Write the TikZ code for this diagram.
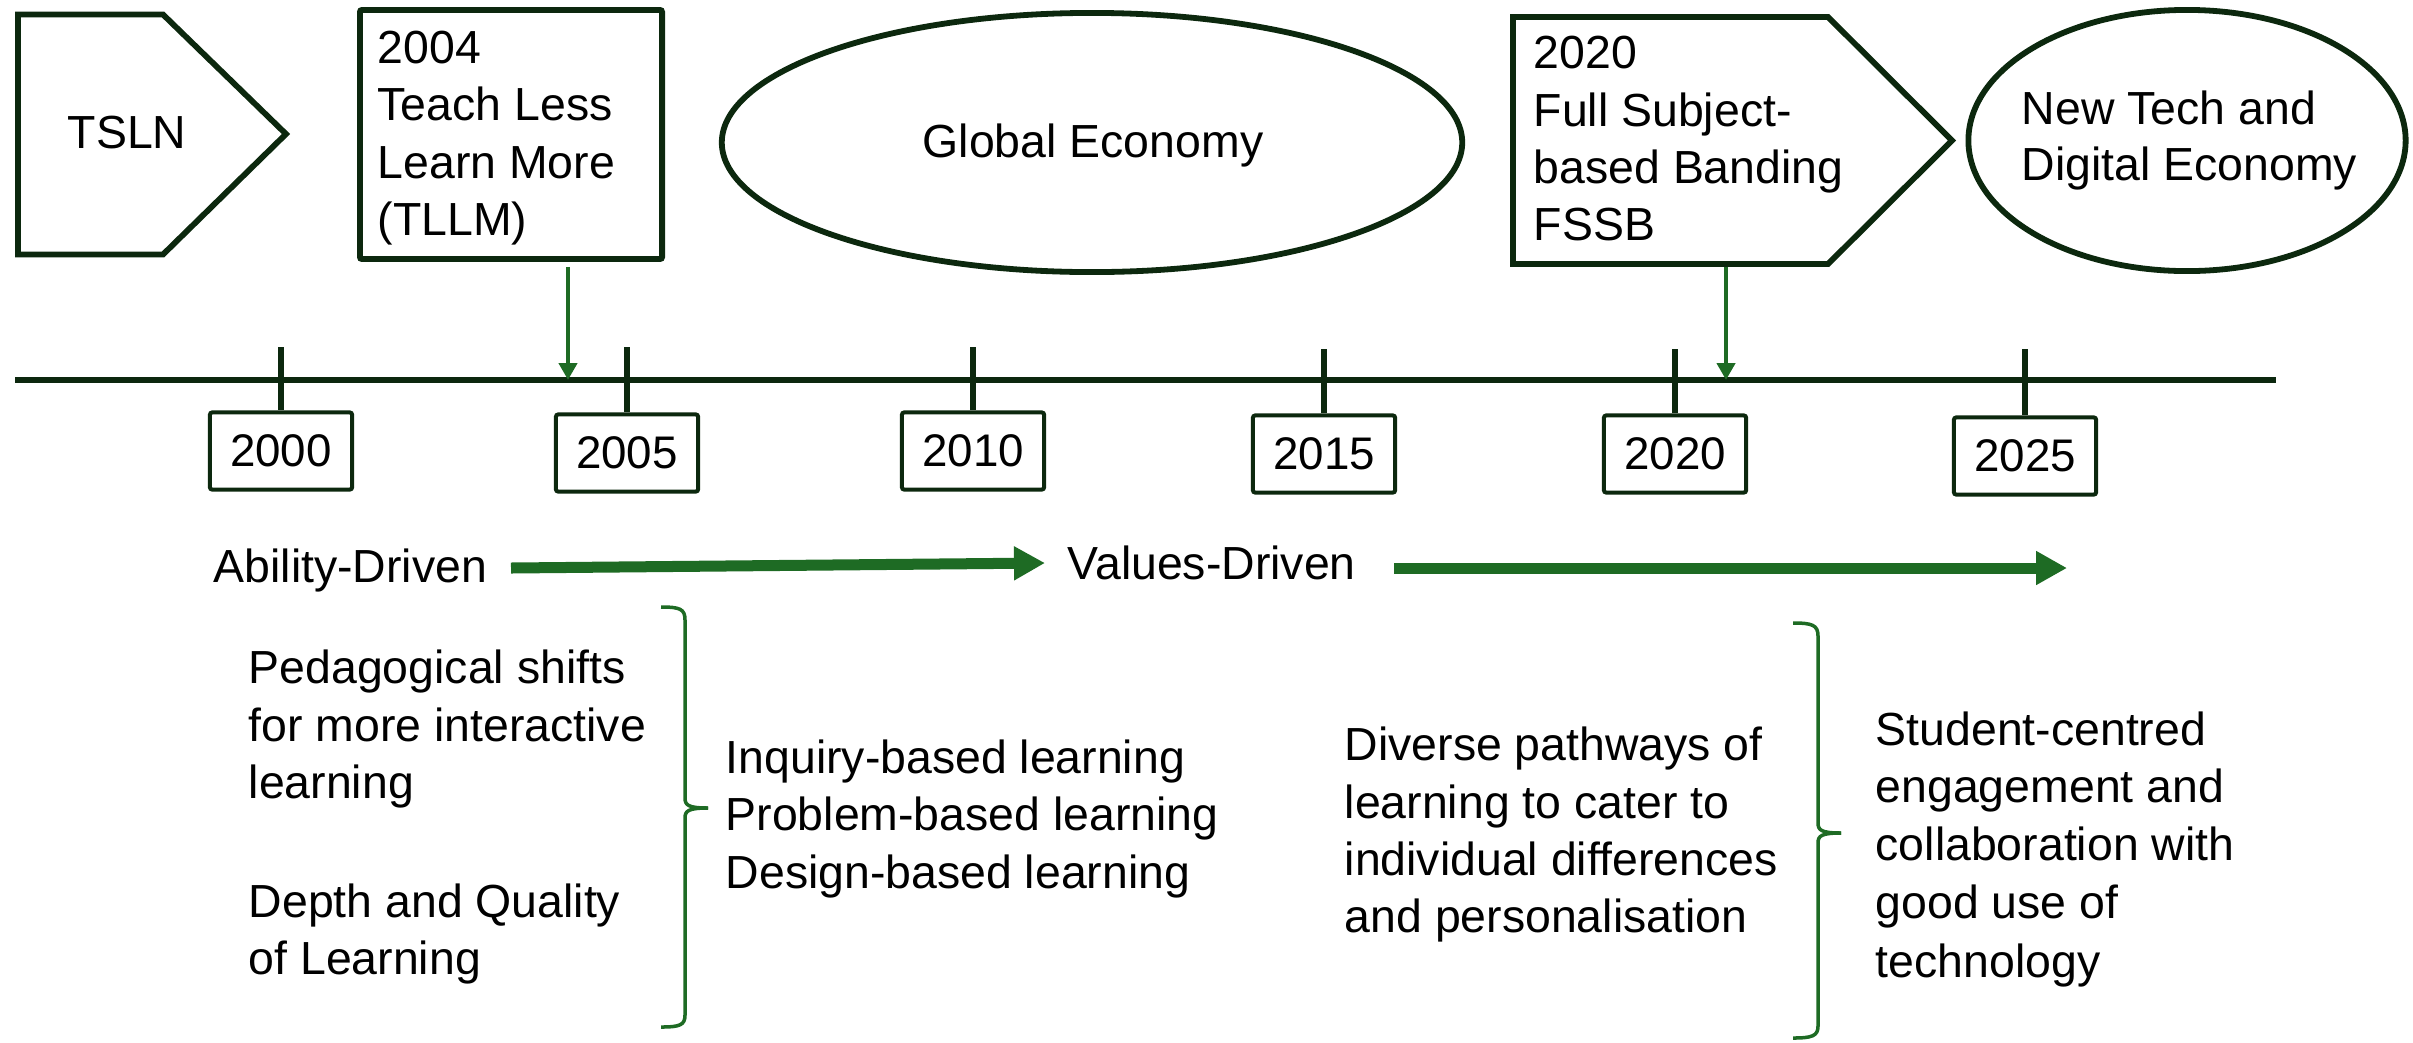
\documentclass[tikz,border=0pt]{standalone}
\usepackage{fontspec}
\setmainfont{Liberation Sans}
\usetikzlibrary{arrows.meta,shapes.geometric}
\definecolor{dkgreen}{RGB}{12,40,14}
\definecolor{mdgreen}{RGB}{30,107,36}
\begin{document}
\begin{tikzpicture}[x=0.01cm,y=-0.01cm,
  txt/.style={inner sep=0pt, anchor=base west, font=\fontsize{13.2pt}{15pt}\selectfont},
  ctxt/.style={inner sep=0pt, anchor=base, font=\fontsize{13.2pt}{15pt}\selectfont},
  outline/.style={draw=dkgreen, line width=0.058cm, line join=miter},
  yearbox/.style={draw=dkgreen, line width=0.04cm, minimum width=1.42cm, minimum height=0.77cm, inner sep=0pt, rounded corners=0.6pt, font=\fontsize{13pt}{15pt}\selectfont},
  timeline/.style={draw=dkgreen, line width=0.062cm},
  tickline/.style={draw=dkgreen, line width=0.062cm},
  thinarrow/.style={draw=mdgreen, line width=0.045cm, -{Triangle[length=0.17cm,width=0.18cm]}},
  bigarrow/.style={draw=mdgreen, line width=0.11cm, -{Triangle[length=0.31cm,width=0.32cm]}},
  bracepath/.style={draw=mdgreen, line width=0.035cm}]
\useasboundingbox (0,0) rectangle (2413,1042);

% ---- top shapes ----
\draw[outline] (18,14.5) -- (163,14.5) -- (286,134) -- (163,254.5) -- (18,254.5) -- cycle;
\node[txt] (tsln) at (67,148) {TSLN};

\node[outline, rectangle, minimum width=3.02cm, minimum height=2.49cm, inner sep=0pt, rounded corners=0.6pt] (tllm) at (511,134.5) {};
\node[txt] (tllm1) at (377,63) {2004};
\node[txt] (tllm2) at (377,120) {Teach Less};
\node[txt] (tllm3) at (377,178) {Learn More};
\node[txt] (tllm4) at (377,235) {(TLLM)};

\node[outline, ellipse, minimum width=7.40cm, minimum height=2.59cm, inner sep=0pt] (glob) at (1092,142.5) {};
\node[ctxt] (globt) at (1093,157) {Global Economy};

\draw[outline] (1513,17) -- (1828,17) -- (1952,140.5) -- (1828,264) -- (1513,264) -- cycle;
\coordinate (fssbB) at (1726,267);
\node[txt] (fssb1) at (1533,68) {2020};
\node[txt] (fssb2) at (1533,126) {Full Subject-};
\node[txt] (fssb3) at (1533,183) {based Banding};
\node[txt] (fssb4) at (1533,240) {FSSB};

\node[outline, ellipse, minimum width=4.37cm, minimum height=2.61cm, inner sep=0pt] (ntech) at (2187,140.5) {};
\node[txt] (ntech1) at (2021,124) {New Tech and};
\node[txt] (ntech2) at (2021,180) {Digital Economy};

% ---- timeline ----
\coordinate (tlL) at (15,380);
\coordinate (tlR) at (2276,380);
\draw[timeline] (tlL) -- (tlR);

\node[yearbox] (y2000) at (281,451) {2000};
\node[yearbox] (y2005) at (627,453) {2005};
\node[yearbox] (y2010) at (973,451) {2010};
\node[yearbox] (y2015) at (1324,454) {2015};
\node[yearbox] (y2020) at (1675,454) {2020};
\node[yearbox] (y2025) at (2025,456) {2025};

\coordinate (k2000) at (281,347);
\coordinate (k2005) at (627,347);
\coordinate (k2010) at (973,347);
\coordinate (k2015) at (1324,349);
\coordinate (k2020) at (1675,349);
\coordinate (k2025) at (2025,349);
\foreach \y in {2000,2005,2010,2015,2020,2025}{
  \draw[tickline] (k\y) -- (y\y.north);
}

\coordinate (p2004) at (568,380);
\coordinate (p2020) at (1726,380);
\draw[thinarrow, shorten <=0.05cm] (tllm.south -| p2004) -- (p2004);
\draw[thinarrow] (fssbB) -- (p2020);

% ---- driven arrows ----
\node[txt] (abil) at (213,582) {Ability-Driven};
\node[txt] (vals) at (1067,579) {Values-Driven};
\coordinate (a1s) at (511,568);
\coordinate (a1e) at (1045,563);
\coordinate (a2s) at (1394,568);
\coordinate (a2e) at (2067,568);
\draw[bigarrow] (a1s) -- (a1e);
\draw[bigarrow] (a2s) -- (a2e);

% ---- left group ----
\node[txt] (ped1) at (248,683) {Pedagogical shifts};
\node[txt] (ped2) at (248,741) {for more interactive};
\node[txt] (ped3) at (248,798) {learning};
\node[txt] (dep1) at (248,917) {Depth and Quality};
\node[txt] (dep2) at (248,974) {of Learning};

\draw[bracepath] (661,607) .. controls (680,607) and (685,609) .. (685,620) -- (685,798) .. controls (685,805) and (688,808) .. (708,808);
\draw[bracepath] (708,808) .. controls (688,808) and (685,811) .. (685,818) -- (685,1015) .. controls (685,1025) and (680,1027) .. (661,1027);

\node[txt] (inq1) at (725,773) {Inquiry-based learning};
\node[txt] (inq2) at (725,830) {Problem-based learning};
\node[txt] (inq3) at (725,888) {Design-based learning};

% ---- right group ----
\node[txt] (div1) at (1344,760) {Diverse pathways of};
\node[txt] (div2) at (1344,818) {learning to cater to};
\node[txt] (div3) at (1344,875) {individual differences};
\node[txt] (div4) at (1344,932) {and personalisation};

\draw[bracepath] (1793,623) .. controls (1812,623) and (1818,625) .. (1818,636) -- (1818,823) .. controls (1818,830) and (1821,833) .. (1841,833);
\draw[bracepath] (1841,833) .. controls (1821,833) and (1818,836) .. (1818,843) -- (1818,1026) .. controls (1818,1036) and (1812,1038) .. (1793,1038);

\node[txt] (stu1) at (1875,745) {Student-centred};
\node[txt] (stu2) at (1875,802) {engagement and};
\node[txt] (stu3) at (1875,860) {collaboration with};
\node[txt] (stu4) at (1875,918) {good use of};
\node[txt] (stu5) at (1875,977) {technology};
\end{tikzpicture}
\end{document}
